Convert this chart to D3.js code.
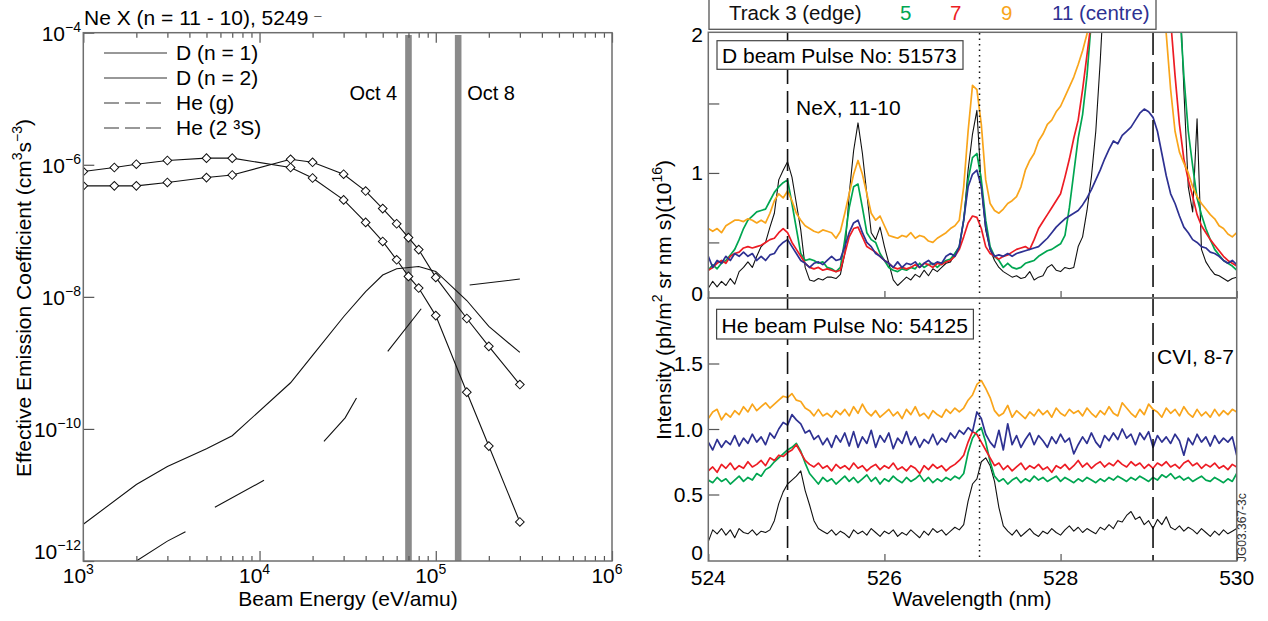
<!DOCTYPE html>
<meta charset="utf-8">
<script src="https://d3js.org/d3.v7.min.js"></script>
<style>
  body { margin: 0; background: #fff; }
  svg { font-family: "Liberation Sans", Arial, sans-serif; }
  .frame { fill: none; stroke: #6e6e6e; stroke-width: 1.5; }
  .axis path { display: none; }
  .axis line { stroke: #555; stroke-width: 1.2; }
  .axis text { display: none; }
</style>
<div id="chart"></div>
<script>

// ---------- left panel : effective emission coefficients ----------
var energyD = [1e3, 1.5e3, 2e3, 3e3, 5e3, 7e3, 1.5e4, 2e4, 3e4, 4e4, 5e4, 6e4, 7e4, 8e4, 1e5, 1.5e5, 2e5, 3e5];
var coefDn1 = [7.9e-7, 9.1e-7, 1.02e-6, 1.16e-6, 1.26e-6, 1.26e-6, 9.1e-7, 6.3e-7, 2.94e-7, 1.34e-7, 6.9e-8, 3.64e-8, 2.04e-8, 1.36e-8, 5.2e-9, 3.6e-10, 5.5e-11, 3.9e-12];
var coefDn2 = [4.8e-7, 4.8e-7, 4.8e-7, 5.4e-7, 6.4e-7, 7.0e-7, 1.21e-6, 1.09e-6, 7.2e-7, 4.0e-7, 2.17e-7, 1.28e-7, 7.9e-8, 5.2e-8, 1.97e-8, 4.7e-9, 1.78e-9, 4.7e-10];
var energyHeG = [1e3, 2e3, 3e3, 5e3, 7e3, 1.5e4, 2e4, 3e4, 4e4, 5e4, 6e4, 8e4, 1e5, 1.5e5, 2e5, 3e5];
var coefHeG = [3.6e-12, 1.44e-11, 2.7e-11, 5.0e-11, 7.9e-11, 5.0e-10, 1.3e-9, 5.0e-9, 1.2e-8, 2.14e-8, 2.66e-8, 2.88e-8, 2.43e-8, 8.8e-9, 3.56e-9, 1.44e-9];
var energyHeS = [2e3, 3e3, 3.8e3, 4.6e3, 5.58e3, 1.06e4, 1.7e4, 2.32e4, 3.06e4, 3.55e4, 4.4e4, 5.34e4, 8.27e4, 1.15e5, 1.557e5, 3e5];
var coefHeS = [1.0e-12, 2.0e-12, 2.77e-12, null, 6.5e-12, 1.67e-11, null, 6.5e-11, 1.47e-10, 2.94e-10, null, 1.49e-9, 6.6e-9, null, 1.51e-8, 1.86e-8];
var octEnergy = [7.0e4, 1.34e5];
var octLabels = ["Oct 4", "Oct 8"];
var legendLabels = ["D (n = 1)", "D (n = 2)", "He (g)", "He (2 \u00b3S)"];
var energyTicks = [1e3, 1e4, 1e5, 1e6];
var energyExp = ["3", "4", "5", "6"];
var coefTicks = [1e-4, 1e-6, 1e-8, 1e-10, 1e-12];
var coefExp = ["\u22124", "\u22126", "\u22128", "\u221210", "\u221212"];

// ---------- right panel : spectra, 0.05 nm sampling from 524 nm ----------
var trackNames = ["Track 3 (edge)", "5", "7", "9", "11 (centre)"];
var trackColors = ["#111111", "#00a651", "#ed1c24", "#f9a51b", "#2e3192"];

var dTrack3 = [0.17,0.22,0.18,0.22,0.19,0.24,0.20,0.29,0.32,0.36, 0.32,0.40,0.47,0.50,0.61,0.71,0.95,1.02,1.08,0.97,
  0.78,0.59,0.32,0.23,0.22,0.24,0.23,0.25,0.25,0.24, 0.27,0.42,0.85,1.16,1.36,1.14,0.85,0.57,0.52,0.61,
  0.47,0.35,0.23,0.19,0.22,0.25,0.23,0.27,0.25,0.30, 0.26,0.31,0.29,0.32,0.35,0.36,0.42,0.47,0.66,1.02,
  1.28,1.45,0.90,0.59,0.45,0.37,0.32,0.29,0.27,0.25, 0.26,0.24,0.25,0.29,0.23,0.25,0.26,0.32,0.34,0.30,
  0.29,0.32,0.31,0.32,0.47,0.54,0.73,0.97,1.30,1.80, 2.4,2.4,2.4,2.4,2.4,2.4,2.4,2.4,2.4,2.4,
  2.4,2.4,2.4,2.4,2.4,2.4,2.4,2.4,1.6,0.9, 0.72,1.39,0.45,0.36,0.31,0.27,0.26,0.24,0.22,0.24, 0.25];
var dTrack5 = [0.30,0.34,0.31,0.35,0.37,0.41,0.45,0.52,0.60,0.66, 0.69,0.72,0.73,0.74,0.80,0.86,0.90,0.93,0.95,0.78,
  0.60,0.42,0.37,0.38,0.37,0.35,0.36,0.32,0.31,0.29, 0.32,0.52,0.75,0.90,0.92,0.75,0.57,0.52,0.50,0.42,
  0.37,0.32,0.30,0.29,0.31,0.30,0.32,0.31,0.35,0.32, 0.34,0.35,0.32,0.35,0.37,0.38,0.42,0.47,0.66,0.95,
  1.11,1.14,0.95,0.66,0.47,0.40,0.37,0.32,0.35,0.32, 0.31,0.32,0.35,0.36,0.37,0.40,0.42,0.44,0.45,0.47,
  0.49,0.55,0.75,1.00,1.25,1.42,1.70,2.10,2.4,2.4, 2.4,2.4,2.4,2.4,2.4,2.4,2.4,2.4,2.4,2.4,
  2.4,2.4,2.4,2.4,2.4,2.4,2.4,2.2,1.7,1.3, 1.05,0.82,0.70,0.60,0.52,0.45,0.41,0.37,0.35,0.33, 0.30];
var dTrack7 = [0.30,0.32,0.35,0.37,0.35,0.40,0.42,0.43,0.46,0.47, 0.46,0.47,0.48,0.50,0.52,0.53,0.57,0.60,0.57,0.50,
  0.45,0.40,0.35,0.32,0.31,0.32,0.30,0.31,0.30,0.29, 0.30,0.42,0.54,0.60,0.61,0.54,0.47,0.45,0.43,0.40,
  0.37,0.35,0.32,0.31,0.32,0.31,0.32,0.34,0.32,0.35, 0.34,0.32,0.35,0.34,0.36,0.37,0.40,0.45,0.54,0.64,
  0.69,0.68,0.60,0.47,0.42,0.40,0.38,0.40,0.41,0.43, 0.45,0.46,0.47,0.45,0.52,0.60,0.65,0.70,0.75,0.80,
  0.85,0.97,1.10,1.25,1.38,1.60,1.85,2.10,2.4,2.4, 2.4,2.4,2.4,2.4,2.4,2.4,2.4,2.4,2.4,2.4,
  2.4,2.4,2.4,2.4,2.4,2.1,1.7,1.35,1.1,0.95, 0.83,0.70,0.62,0.57,0.52,0.48,0.44,0.40,0.37,0.35, 0.33];
var dTrack9 = [0.60,0.58,0.60,0.57,0.62,0.64,0.66,0.66,0.65,0.67, 0.66,0.64,0.66,0.64,0.71,0.80,0.85,0.82,0.87,0.80,
  0.71,0.66,0.62,0.60,0.58,0.57,0.59,0.58,0.57,0.53, 0.58,0.71,0.85,0.99,1.09,0.99,0.85,0.71,0.66,0.69,
  0.62,0.55,0.54,0.53,0.55,0.54,0.57,0.53,0.55,0.54, 0.51,0.50,0.53,0.55,0.57,0.60,0.62,0.66,0.90,1.30,
  1.63,1.60,1.35,0.95,0.78,0.73,0.71,0.74,0.78,0.80, 0.83,0.90,1.02,1.09,1.14,1.23,1.28,1.35,1.38,1.44,
  1.48,1.55,1.62,1.69,1.78,1.88,2.0,2.4,2.4,2.4, 2.4,2.4,2.4,2.4,2.4,2.4,2.4,2.4,2.4,2.4,
  2.4,2.4,2.4,2.4,2.0,1.6,1.3,1.15,1.07,1.0, 0.90,0.83,0.78,0.74,0.70,0.67,0.62,0.60,0.56,0.54, 0.57];
var dTrack11 = [0.40,0.32,0.37,0.35,0.40,0.37,0.42,0.40,0.43,0.40, 0.42,0.37,0.40,0.37,0.41,0.42,0.47,0.50,0.52,0.47,
  0.42,0.37,0.35,0.32,0.35,0.36,0.34,0.37,0.40,0.37, 0.38,0.47,0.57,0.64,0.66,0.57,0.50,0.47,0.42,0.40,
  0.37,0.35,0.32,0.36,0.32,0.35,0.34,0.36,0.32,0.35, 0.37,0.34,0.36,0.35,0.40,0.42,0.40,0.47,0.66,0.90,
  0.99,1.02,0.90,0.61,0.45,0.40,0.41,0.40,0.42,0.40, 0.42,0.43,0.44,0.45,0.46,0.47,0.50,0.53,0.57,0.61,
  0.64,0.67,0.69,0.71,0.73,0.77,0.82,0.88,0.95,1.02, 1.10,1.17,1.23,1.21,1.27,1.30,1.33,1.38,1.43,1.46,
  1.44,1.40,1.30,1.14,0.98,0.85,0.78,0.69,0.61,0.57, 0.52,0.50,0.47,0.46,0.43,0.42,0.40,0.37,0.35,0.37, 0.34];

var heTrack3 = [0.14,0.23,0.20,0.24,0.19,0.23,0.17,0.24,0.21,0.20, 0.23,0.19,0.22,0.21,0.23,0.30,0.43,0.52,0.58,0.61,
  0.64,0.68,0.53,0.42,0.30,0.24,0.22,0.20,0.23,0.19, 0.22,0.20,0.17,0.23,0.20,0.22,0.19,0.24,0.21,0.18,
  0.22,0.20,0.23,0.18,0.21,0.19,0.23,0.20,0.17,0.22, 0.19,0.24,0.21,0.23,0.19,0.22,0.25,0.23,0.27,0.45,
  0.58,0.62,0.75,0.78,0.72,0.60,0.40,0.26,0.22,0.19, 0.23,0.18,0.21,0.24,0.20,0.18,0.22,0.20,0.24,0.21,
  0.19,0.23,0.26,0.22,0.25,0.21,0.24,0.22,0.20,0.25, 0.23,0.27,0.24,0.30,0.29,0.34,0.37,0.31,0.33,0.27,
  0.30,0.24,0.31,0.27,0.33,0.25,0.23,0.26,0.22,0.25, 0.23,0.20,0.24,0.21,0.18,0.22,0.19,0.23,0.20,0.22, 0.24];
var heTrack5 = [0.61,0.59,0.63,0.60,0.62,0.58,0.61,0.64,0.60,0.63, 0.61,0.66,0.64,0.69,0.71,0.75,0.78,0.81,0.84,0.86,
  0.89,0.83,0.74,0.66,0.62,0.58,0.63,0.60,0.62,0.58, 0.61,0.64,0.60,0.63,0.59,0.62,0.65,0.60,0.63,0.58,
  0.62,0.60,0.64,0.61,0.59,0.63,0.60,0.62,0.65,0.60, 0.63,0.59,0.62,0.60,0.63,0.61,0.64,0.62,0.66,0.82,
  0.93,0.98,1.01,0.90,0.75,0.64,0.60,0.62,0.58,0.61, 0.63,0.59,0.62,0.60,0.64,0.61,0.63,0.60,0.62,0.64,
  0.60,0.63,0.61,0.59,0.62,0.60,0.63,0.61,0.59,0.62, 0.60,0.63,0.61,0.64,0.62,0.60,0.63,0.61,0.64,0.62,
  0.60,0.63,0.61,0.65,0.63,0.66,0.62,0.64,0.61,0.63, 0.60,0.62,0.64,0.61,0.60,0.63,0.61,0.59,0.62,0.60, 0.66];
var heTrack7 = [0.68,0.71,0.67,0.73,0.70,0.74,0.69,0.72,0.70,0.75, 0.71,0.73,0.76,0.72,0.78,0.76,0.80,0.79,0.82,0.84,
  0.88,0.82,0.76,0.73,0.71,0.74,0.70,0.72,0.68,0.73, 0.70,0.72,0.69,0.74,0.70,0.72,0.68,0.71,0.73,0.69,
  0.72,0.70,0.74,0.69,0.71,0.68,0.72,0.70,0.66,0.72, 0.69,0.73,0.70,0.72,0.68,0.71,0.73,0.76,0.80,0.90,
  0.98,0.96,0.90,0.84,0.78,0.72,0.74,0.69,0.72,0.68, 0.71,0.74,0.69,0.72,0.70,0.73,0.69,0.71,0.67,0.72,
  0.70,0.73,0.69,0.72,0.76,0.71,0.74,0.70,0.73,0.75, 0.71,0.74,0.72,0.76,0.73,0.71,0.75,0.72,0.74,0.70,
  0.73,0.70,0.74,0.72,0.75,0.71,0.73,0.70,0.74,0.76, 0.72,0.74,0.70,0.73,0.71,0.74,0.70,0.72,0.69,0.73, 0.71];
var heTrack9 = [1.08,1.13,1.15,1.07,1.12,1.09,1.14,1.11,1.17,1.13, 1.19,1.14,1.17,1.20,1.16,1.19,1.22,1.25,1.24,1.27,
  1.22,1.21,1.16,1.14,1.10,1.15,1.10,1.12,1.09,1.14, 1.11,1.15,1.10,1.17,1.12,1.19,1.13,1.10,1.14,1.09,
  1.12,1.15,1.10,1.13,1.08,1.15,1.11,1.17,1.10,1.12, 1.08,1.14,1.11,1.09,1.15,1.12,1.16,1.13,1.16,1.22,
  1.26,1.34,1.37,1.31,1.24,1.14,1.10,1.12,1.18,1.09, 1.14,1.11,1.08,1.13,1.10,1.15,1.11,1.14,1.09,1.16,
  1.12,1.10,1.15,1.12,1.14,1.10,1.16,1.12,1.09,1.14, 1.11,1.17,1.12,1.10,1.20,1.16,1.12,1.09,1.15,1.11,
  1.19,1.15,1.13,1.09,1.16,1.12,1.15,1.10,1.17,1.12, 1.09,1.15,1.10,1.13,1.09,1.15,1.10,1.14,1.11,1.15, 1.13];
var heTrack11 = [0.90,0.84,0.92,0.86,0.91,0.88,0.95,0.87,0.93,0.89, 0.96,0.90,0.94,0.88,0.97,0.93,1.00,1.05,1.03,1.11,
  1.07,1.04,0.97,0.99,0.92,0.95,0.88,0.93,0.86,0.95, 0.90,0.97,0.87,0.98,0.86,0.94,0.89,0.99,0.86,0.95,
  0.90,0.97,0.85,0.93,0.89,0.98,0.88,0.94,0.86,0.92, 0.89,0.96,0.88,0.93,0.90,0.97,0.93,0.99,0.96,1.01,
  0.98,1.13,1.08,0.96,0.90,0.86,0.99,0.84,1.04,0.88, 0.95,0.86,0.92,0.97,0.88,0.95,0.91,0.86,0.94,0.89,
  0.96,0.90,0.93,0.81,0.88,0.94,0.89,0.97,0.90,0.86, 0.95,0.91,0.97,0.92,1.00,0.93,0.96,0.88,0.97,0.92,
  0.98,0.86,0.95,0.90,0.94,0.89,0.96,0.91,0.80,0.93, 0.88,0.96,0.90,0.94,0.87,0.95,0.89,0.93,0.90,0.94, 0.80];

var dSpectra = [dTrack3, dTrack5, dTrack7, dTrack9, dTrack11];
var heSpectra = [heTrack3, heTrack5, heTrack7, heTrack9, heTrack11];
var wlStart = 524, wlStep = 0.05;
var lineDashed = [524.9, 529.05];
var lineDotted = [527.08];
var wlTicks = [524, 526, 528, 530];
var topTicks = [0.5, 1, 1.5];
var botTicks = [0.5, 1, 1.5];
var botTickLabels = ["0.5", "1.0", "1.5"];

// ---------- svg ----------
var width = 1268, height = 621;
var FS = 21, SUP = 14;
var svg = d3.select("#chart").append("svg")
  .attr("width", width)
  .attr("height", height);

var defs = svg.append("defs");
function clip(id, x, y, w, h) {
  defs.append("clipPath").attr("id", id)
    .append("rect").attr("x", x).attr("y", y).attr("width", w).attr("height", h);
}

// ================= LEFT PANEL =================
var xE = d3.scaleLog().domain([1e3, 1e6]).range([83.3, 612]);
var yE = d3.scaleLog().domain([1e-12, 1e-4]).range([561, 32.7]);
clip("clipL", 83.3, 32.7, 612 - 83.3, 561 - 32.7);

// grey bars for the two campaigns
svg.selectAll(".oct")
  .data(octEnergy)
  .enter().append("rect")
    .attr("x", function(d) { return xE(d) - 3.3; })
    .attr("y", 35)
    .attr("width", 6.6)
    .attr("height", 561 - 35)
    .attr("fill", "#8a8a8a");

svg.selectAll(".octlab")
  .data(octLabels)
  .enter().append("text")
    .attr("x", function(d, i) { return i === 0 ? xE(octEnergy[0]) - 59 : xE(octEnergy[1]) + 9; })
    .attr("y", 100)
    .attr("font-size", FS - 1)
    .text(function(d) { return d; });

var gL = svg.append("g").attr("clip-path", "url(#clipL)");
var lineE = d3.line()
  .defined(function(d) { return d[1] != null; })
  .x(function(d) { return xE(d[0]); })
  .y(function(d) { return yE(d[1]); });

function zipE(e, v) { return e.map(function(d, i) { return [d, v[i]]; }); }

gL.append("path").datum(zipE(energyHeG, coefHeG))
  .attr("d", lineE).attr("fill", "none").attr("stroke", "#111").attr("stroke-width", 1.1);
gL.append("path").datum(zipE(energyHeS, coefHeS))
  .attr("d", lineE).attr("fill", "none").attr("stroke", "#111").attr("stroke-width", 1.1);

[coefDn1, coefDn2].forEach(function(c) {
  gL.append("path").datum(zipE(energyD, c))
    .attr("d", lineE).attr("fill", "none").attr("stroke", "#111").attr("stroke-width", 1.1);
});
[coefDn1, coefDn2].forEach(function(c) {
  gL.selectAll(null)
    .data(zipE(energyD, c))
    .enter().append("path")
      .attr("d", d3.symbol(d3.symbolSquare, 38)())
      .attr("transform", function(d) { return "translate(" + xE(d[0]) + "," + yE(d[1]) + ") rotate(45)"; })
      .attr("fill", "#fff")
      .attr("stroke", "#111")
      .attr("stroke-width", 1);
});

// axes (tick marks only)
var minorE = [];
[1e3, 1e4, 1e5].forEach(function(dec) { for (var k = 2; k <= 9; k++) minorE.push(dec * k); });
svg.append("g").attr("class", "axis").attr("transform", "translate(0,561)")
  .call(d3.axisBottom(xE).tickValues(energyTicks).tickSize(-10).tickFormat(""));
svg.append("g").attr("class", "axis").attr("transform", "translate(0,561)")
  .call(d3.axisBottom(xE).tickValues(minorE).tickSize(-5).tickFormat(""));
svg.append("g").attr("class", "axis").attr("transform", "translate(0,32.7)")
  .call(d3.axisTop(xE).tickValues(energyTicks).tickSize(-10).tickFormat(""));
svg.append("g").attr("class", "axis").attr("transform", "translate(0,32.7)")
  .call(d3.axisTop(xE).tickValues(minorE).tickSize(-5).tickFormat(""));
svg.append("g").attr("class", "axis").attr("transform", "translate(83.3,0)")
  .call(d3.axisLeft(yE).tickValues(coefTicks).tickSize(-11).tickFormat(""));

svg.append("rect").attr("class", "frame")
  .attr("x", 83.3).attr("y", 32.7).attr("width", 612 - 83.3).attr("height", 561 - 32.7);

// tick labels with superscripts
var xl = svg.selectAll(".xel").data(energyTicks).enter().append("text")
  .attr("x", function(d) { return xE(d) - 5; })
  .attr("y", 583)
  .attr("text-anchor", "middle")
  .attr("font-size", FS);
xl.append("tspan").text("10");
xl.append("tspan").attr("dy", -9).attr("font-size", SUP).text(function(d, i) { return energyExp[i]; });

var yl = svg.selectAll(".yel").data(coefTicks).enter().append("text")
  .attr("x", 81)
  .attr("y", function(d, i) { return i === coefTicks.length - 1 ? yE(d) - 2 : yE(d) + 8; })
  .attr("text-anchor", "end")
  .attr("font-size", FS);
yl.append("tspan").text("10");
yl.append("tspan").attr("dy", -9).attr("font-size", SUP).text(function(d, i) { return coefExp[i]; });

// legend
legendLabels.forEach(function(lab, i) {
  var ly = 53 + i * 25;
  svg.append("line")
    .attr("x1", 104).attr("x2", 167).attr("y1", ly).attr("y2", ly)
    .attr("stroke", "#333").attr("stroke-width", 1.1)
    .attr("stroke-dasharray", i < 2 ? null : "15,6");
  svg.append("text").attr("x", 176).attr("y", ly + 7).attr("font-size", FS).text(lab);
});

// title and axis titles
var tt = svg.append("text").attr("x", 84).attr("y", 25).attr("font-size", FS);
tt.append("tspan").text("Ne X (n = 11 - 10), 5249 ");
tt.append("tspan").attr("font-size", 13).attr("dy", 1).text("\u00af");
svg.append("text").attr("x", 348).attr("y", 606).attr("text-anchor", "middle").attr("font-size", FS)
  .text("Beam Energy (eV/amu)");
var yt = svg.append("text").attr("transform", "translate(31,298) rotate(-90)")
  .attr("text-anchor", "middle").attr("font-size", FS);
yt.append("tspan").text("Effective Emission Coefficient (cm");
yt.append("tspan").attr("dy", -9).attr("font-size", SUP).text("3");
yt.append("tspan").attr("dy", 9).text("s");
yt.append("tspan").attr("dy", -9).attr("font-size", SUP).text("\u22123");
yt.append("tspan").attr("dy", 9).text(")");

// ================= RIGHT PANEL =================
var xW = d3.scaleLinear().domain([524, 530]).range([708.3, 1236.7]);
var yTop = d3.scaleLinear().domain([0.1, 2]).range([298, 34]);
var yBot = d3.scaleLinear().domain([0, 2]).range([560, 298]);
clip("clipT", 708.3, 32.3, 1236.7 - 708.3, 298 - 32.3);
clip("clipB", 708.3, 298, 1236.7 - 708.3, 561 - 298);

function drawSpectra(series, yS, clipId) {
  var g = svg.append("g").attr("clip-path", "url(#" + clipId + ")");
  var ln = d3.line()
    .x(function(d, i) { return xW(wlStart + i * wlStep); })
    .y(function(d) { return yS(d); });
  series.forEach(function(s, k) {
    g.append("path").datum(s)
      .attr("d", ln)
      .attr("fill", "none")
      .attr("stroke", trackColors[k])
      .attr("stroke-width", k === 0 ? 1.1 : 1.7)
      .attr("stroke-linejoin", "round");
  });
}
drawSpectra(dSpectra, yTop, "clipT");
drawSpectra(heSpectra, yBot, "clipB");

// reference lines
svg.selectAll(".wlDash").data(lineDashed).enter().append("line")
  .attr("x1", function(d) { return xW(d); }).attr("x2", function(d) { return xW(d); })
  .attr("y1", 33).attr("y2", 561)
  .attr("stroke", "#111").attr("stroke-width", 1.6).attr("stroke-dasharray", "22,7");
svg.selectAll(".wlDot").data(lineDotted).enter().append("line")
  .attr("x1", function(d) { return xW(d); }).attr("x2", function(d) { return xW(d); })
  .attr("y1", 33).attr("y2", 561)
  .attr("stroke", "#111").attr("stroke-width", 1.5).attr("stroke-dasharray", "1.5,4");

// axis ticks
[298, 561].forEach(function(yy) {
  svg.append("g").attr("class", "axis").attr("transform", "translate(0," + yy + ")")
    .call(d3.axisBottom(xW).tickValues(wlTicks).tickSize(-7).tickFormat(""));
});
svg.append("g").attr("class", "axis").attr("transform", "translate(708.3,0)")
  .call(d3.axisLeft(yTop).tickValues(topTicks).tickSize(-11).tickFormat(""));
svg.append("g").attr("class", "axis").attr("transform", "translate(708.3,0)")
  .call(d3.axisLeft(yBot).tickValues(botTicks).tickSize(-11).tickFormat(""));

svg.append("rect").attr("class", "frame")
  .attr("x", 708.3).attr("y", 32.3).attr("width", 1236.7 - 708.3).attr("height", 298 - 32.3);
svg.append("rect").attr("class", "frame")
  .attr("x", 708.3).attr("y", 298).attr("width", 1236.7 - 708.3).attr("height", 561 - 298);

// tick labels
svg.selectAll(".wlLab").data(wlTicks).enter().append("text")
  .attr("x", function(d) { return xW(d); })
  .attr("y", 585)
  .attr("text-anchor", "middle").attr("font-size", FS)
  .text(function(d) { return d; });
var topLabs = [[2, "2"], [1, "1"], [0.135, "0"]];
svg.selectAll(".tl").data(topLabs).enter().append("text")
  .attr("x", 703).attr("y", function(d) { return yTop(d[0]) + 7.5; })
  .attr("text-anchor", "end").attr("font-size", FS)
  .text(function(d) { return d[1]; });
svg.selectAll(".bl").data(botTicks).enter().append("text")
  .attr("x", 703).attr("y", function(d) { return yBot(d) + 7.5; })
  .attr("text-anchor", "end").attr("font-size", FS)
  .text(function(d, i) { return botTickLabels[i]; });
svg.append("text").attr("x", 703).attr("y", 560).attr("text-anchor", "end").attr("font-size", FS).text("0");

// header box with the track colours
svg.append("rect").attr("x", 709).attr("y", -2).attr("width", 447).attr("height", 31.3)
  .attr("fill", "#fff").attr("stroke", "#555").attr("stroke-width", 1.3);
var headerX = [729, 900, 950, 1001, 1052];
trackNames.forEach(function(t, i) {
  svg.append("text").attr("x", headerX[i]).attr("y", 20).attr("font-size", 20.5)
    .attr("fill", i === 0 ? "#111" : trackColors[i]).text(t);
});

// pulse boxes
function labelBox(x, y, w, h, txt) {
  svg.append("rect").attr("x", x).attr("y", y).attr("width", w).attr("height", h)
    .attr("fill", "#fff").attr("stroke", "#444").attr("stroke-width", 1.2);
  svg.append("text").attr("x", x + 5).attr("y", y + h - 6.5).attr("font-size", FS).text(txt);
}
labelBox(717, 40.7, 246, 28.6, "D beam Pulse No: 51573");
labelBox(716.6, 309.3, 256.8, 29.7, "He beam Pulse No: 54125");

svg.append("text").attr("x", 796).attr("y", 115).attr("font-size", FS).text("NeX, 11-10");
svg.append("text").attr("x", 1157).attr("y", 364).attr("font-size", FS).text("CVI, 8-7");

svg.append("text").attr("x", 972).attr("y", 606).attr("text-anchor", "middle").attr("font-size", FS)
  .text("Wavelength (nm)");
var yt2 = svg.append("text").attr("transform", "translate(671,300) rotate(-90)")
  .attr("text-anchor", "middle").attr("font-size", FS);
yt2.append("tspan").text("Intensity (ph/m");
yt2.append("tspan").attr("dy", -9).attr("font-size", SUP).text("2");
yt2.append("tspan").attr("dy", 9).text(" sr nm s)(10");
yt2.append("tspan").attr("dy", -9).attr("font-size", SUP).text("16");
yt2.append("tspan").attr("dy", 9).text(")");

svg.append("text").attr("transform", "translate(1246,562) rotate(-90)")
  .attr("font-size", 12).attr("fill", "#333").text("JG03.367-3c");

</script>
